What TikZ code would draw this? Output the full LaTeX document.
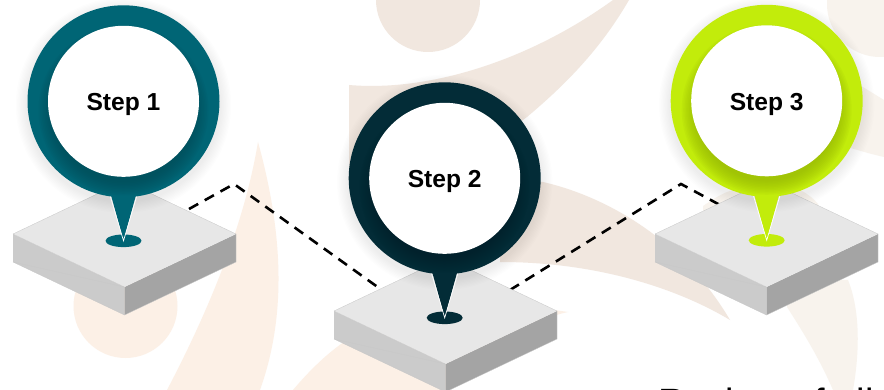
\documentclass[tikz,border=0pt]{standalone}
\usepackage{fontspec}
\setmainfont{Liberation Sans}
\definecolor{peachA}{HTML}{F1E7DF}
\definecolor{peachB}{HTML}{FCF0E6}
\definecolor{peachC}{HTML}{F8F3ED}
\definecolor{slabTop}{HTML}{E7E7E7}
\definecolor{slabLeft}{HTML}{CBCBCB}
\definecolor{slabRight}{HTML}{A4A4A4}
\definecolor{pinA}{HTML}{006575}
\definecolor{pinAd}{HTML}{004A55}
\definecolor{pinB}{HTML}{032C37}
\definecolor{pinBd}{HTML}{01202A}
\definecolor{pinC}{HTML}{C2EC0B}
\definecolor{pinCd}{HTML}{8FAF05}
\tikzset{
  steplabel/.style={font=\bfseries\fontsize{24.6}{28}\selectfont,text=black,anchor=base,inner sep=0pt},
  linkline/.style={draw=black,line width=2.6pt,dash pattern=on 10.5pt off 7.5pt},
  hole/.style={circle,fill=white,draw=none,minimum size=151pt,inner sep=0pt},
  slabedge/.style={draw=black!22,line width=.3pt,line join=round}
}
\newcommand{\myslab}[2]{
  \begin{scope}[shift={(#1,#2)}]
    \fill[slabLeft] (0,0) -- (111.5,53) -- (111.5,81) -- (0,28) -- cycle;
    \fill[slabRight] (223,0) -- (111.5,53) -- (111.5,81) -- (223,28) -- cycle;
    \fill[slabTop] (0,0) -- (111.5,-53) -- (223,0) -- (111.5,53) -- cycle;
    \draw[slabedge] (111.5,53) -- (0,0) -- (111.5,-53) -- (223,0) -- (223,28) -- (111.5,81) -- (0,28) -- cycle;
  \end{scope}
}
\newcommand{\mypin}[6]{
  \begin{scope}[shift={(#2,#3)}]
    \foreach \r in {1,2,...,9} {\fill[black,opacity=.006] (0,4) circle ({96+\r*1.3 pt});}
    \fill[#4] (0,139.5) ellipse (18pt and 6.3pt);
    \fill[#4] (-13.5,90) -- (0,139.5) -- (13.5,90) -- cycle;
    \draw[white,line width=.7pt] (-13.5,94) -- (0,139.5) -- (13.5,94);
    \fill[#4] (0,0) circle (96pt);
    \begin{scope}
      \clip (0,0) circle (96pt);
      \foreach \r in {1,2,...,10} {\fill[#5,opacity=.085] (0,9) circle ({70+\r*1.5 pt});}
    \end{scope}
    \node[hole] (#1) at (0,0) {};
    \node[steplabel] (#1text) at (0,9.5) {#6};
  \end{scope}
}
\begin{document}
\begin{tikzpicture}[x=1pt,y=-1pt]
\useasboundingbox (0,0) rectangle (884,390);
\clip (0,0) rectangle (884,390);
\fill[white] (0,0) rectangle (884,390);
\fill[peachA] (428,0) circle (52pt);
\fill[peachA] (349,85) .. controls (430,92) and (530,60) .. (613,0) -- (629,0)
  .. controls (600,50) and (565,85) .. (527,117) -- (445,178) -- (349,178) -- cycle;
\fill[peachA] (500,178) -- (543,182) .. controls (600,195) and (680,235) .. (730,320)
  .. controls (680,290) and (600,262) .. (500,262) -- cycle;
\fill[peachC] (880,4) circle (53pt);
\fill[peachC] (850,80) .. controls (862,86) and (874,94) .. (884,100) -- (884,157)
  .. controls (870,154) and (858,150) .. (847,147) -- cycle;
\fill[peachC] (703,206) .. controls (712,200) and (722,193) .. (733,190) -- (800,190)
  .. controls (808,194) and (814,199) .. (818,204) -- (818,260) -- (703,260) -- cycle;
\fill[peachC] (787,307) .. controls (805,335) and (820,360) .. (833,390) -- (853,390)
  .. controls (860,350) and (860,310) .. (848,280) -- (787,280) -- cycle;
\fill[peachB] (125.5,306) circle (52pt);
\fill[peachB] (258,142) .. controls (250,190) and (230,270) .. (167,390) -- (260,390)
  .. controls (285,320) and (285,240) .. (258,142) -- cycle;
\fill[peachB] (293,390) .. controls (320,358) and (360,320) .. (420,310) -- (540,308)
  -- (568,312) .. controls (530,320) and (480,350) .. (445,390) -- cycle;
\coordinate (a1) at (189,209);
\coordinate (a2) at (234,184);
\coordinate (a3) at (379,288);
\coordinate (b1) at (510,290);
\coordinate (b2) at (681,184);
\coordinate (b3) at (720,205);
\draw[linkline] (a1) -- (a2) -- (a3);
\draw[linkline] (b1) -- (b2) -- (b3);
\myslab{13}{234}
\myslab{334}{311}
\myslab{655}{234}
\mypin{step1}{123.5}{101.3}{pinA}{pinAd}{Step 1}
\mypin{step2}{444.7}{178.3}{pinB}{pinBd}{Step 2}
\mypin{step3}{766.7}{100.8}{pinC}{pinCd}{Step 3}
\node[font=\fontsize{38}{44}\selectfont,anchor=base west,inner sep=0pt] (caption) at (658,415.5) {Review of all};
\end{tikzpicture}
\end{document}
